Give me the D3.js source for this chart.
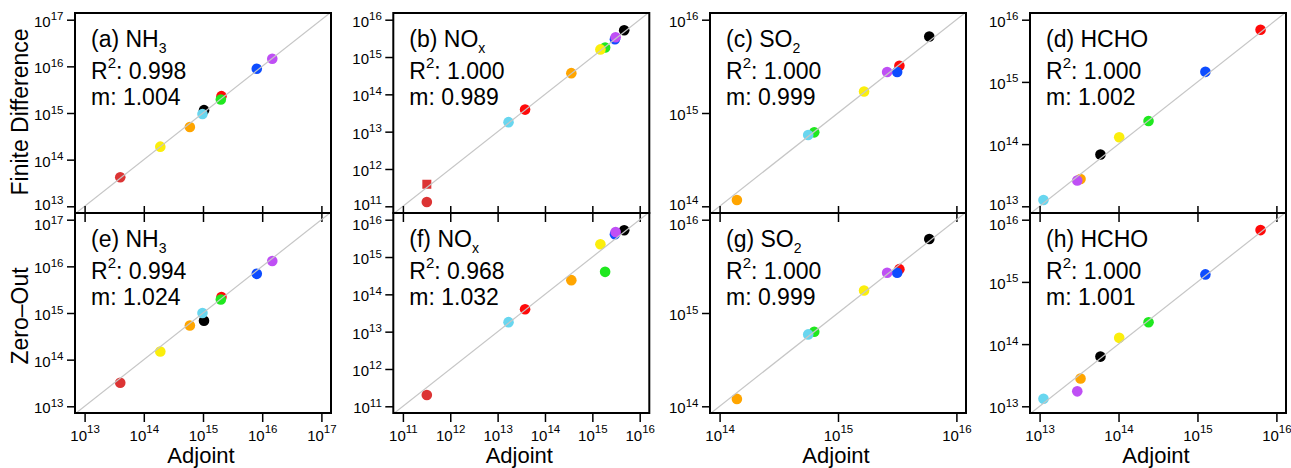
<!DOCTYPE html>
<html><head><meta charset="utf-8">
<script src="https://cdn.jsdelivr.net/npm/d3@7"></script>
<style>
body{margin:0;background:#fff}
svg{display:block}
text{font-family:"Liberation Sans",Arial,Helvetica,sans-serif;fill:#000}
</style>
</head><body>
<svg id="chart" width="1291" height="468"></svg>
<script>
// ---------------- DATA ----------------
const categories = ["Source 1","Source 2","Source 3","Source 4","Source 5","Source 6","Source 7","Source 8","Source 9"];
const colors = ["#dc3434","#ff0a0a","#1fe81f","#ffa500","#000000","#fbee0c","#68d6ef","#0d4cff","#bf4ff5"];

const speciesBase = ["NH","NO","SO","HCHO"];
const speciesSub  = ["3","x","2",""];
const decadeLo = [13,11,14,13];
const decadeHi = [17,16,16,16];
const rowTitles = ["Finite Difference","Zero\u2013Out"];
const xTitle = "Adjoint";
const panelLetters = [["(a)","(b)","(c)","(d)"],["(e)","(f)","(g)","(h)"]];
const r2Values = [["0.998","1.000","1.000","1.000"],["0.994","0.968","1.000","1.000"]];
const slopeValues = [["1.004","0.989","0.999","1.002"],["1.024","1.032","0.999","1.001"]];

// order of values follows categories
const adjNH3 = [4.0e13, 2.05e15, 2.0e15, 6.0e14, 1.04e15, 1.9e14, 9.8e14, 8.1e15, 1.48e16];
const fdNH3  = [4.2e13, 2.3e15, 1.95e15, 5.0e14, 1.15e15, 1.9e14, 9.5e14, 8.9e15, 1.45e16];
const zoNH3  = [3.2e13, 2.2e15, 1.95e15, 5.4e14, 6.8e14, 1.5e14, 1.0e15, 6.9e15, 1.3e16];

const adjNOx = [3.2e11, 3.8e13, 1.86e15, 3.6e14, 4.7e15, 1.48e15, 1.7e13, 3.0e15, 3.1e15];
const fdNOx  = [1.3e11, 3.9e13, 1.8e15, 3.7e14, 5.2e15, 1.6e15, 1.8e13, 3.0e15, 3.4e15];
const zoNOx  = [2.0e11, 4.0e13, 4.0e14, 2.4e14, 5.2e15, 2.2e15, 1.8e13, 4.1e15, 4.7e15];
const adjNOxSquare = [3.2e11];
const fdNOxSquare  = [3.9e11];

const adjSO2 = [null, 3.3e15, 6.3e14, 1.4e14, 5.9e15, 1.66e15, 5.6e14, 3.16e15, 2.6e15];
const fdSO2  = [null, 3.2e15, 6.2e14, 1.17e14, 6.6e15, 1.7e15, 5.8e14, 2.75e15, 2.75e15];
const zoSO2  = [null, 2.95e15, 6.3e14, 1.2e14, 6.2e15, 1.74e15, 5.9e14, 2.7e15, 2.7e15];

const adjHCHO = [null, 6.3e15, 2.4e14, 3.3e13, 5.9e13, 1.02e14, 1.12e13, 1.26e15, 3.0e13];
const fdHCHO  = [null, 6.9e15, 2.35e14, 2.75e13, 6.8e13, 1.29e14, 1.26e13, 1.45e15, 2.6e13];
const zoHCHO  = [null, 6.8e15, 2.24e14, 2.8e13, 6.3e13, 1.26e14, 1.32e13, 1.32e15, 1.74e13];

const adjoint = [adjNH3, adjNOx, adjSO2, adjHCHO];
const compare = [[fdNH3, fdNOx, fdSO2, fdHCHO],[zoNH3, zoNOx, zoSO2, zoHCHO]];

// ---------------- LAYOUT ----------------
const colLeft = [75, 393.3, 710, 1030];
const panelW = 256;
const rowTop = [13, 213];
const panelH = 200;
const padX = 9.6, padY = 6.7;
const FONT = 23, TICKFONT = 15, SUPFONT = 11.5;

const svg = d3.select("#chart");
const defs = svg.append("defs");

for (let r = 0; r < 2; r++) {
  for (let c = 0; c < 4; c++) {
    const L = colLeft[c], T = rowTop[r];
    const decades = d3.range(decadeLo[c], decadeHi[c] + 1).map(e => Math.pow(10, e));
    const x = d3.scaleLog().domain([decades[0], decades[decades.length-1]]).range([L + padX, L + panelW - padX]);
    const y = d3.scaleLog().domain([decades[0], decades[decades.length-1]]).range([T + panelH - padY, T + padY]);
    const g = svg.append("g");
    const clipId = "clip" + r + c;
    defs.append("clipPath").attr("id", clipId).append("rect")
      .attr("x", L).attr("y", T).attr("width", panelW).attr("height", panelH);

    const xs = adjoint[c], ys = compare[r][c];
    const pts = xs.map((v, i) => ({x: v, y: ys[i], i})).filter(d => d.x != null && d.y != null);
    const pg = g.append("g").attr("clip-path", `url(#${clipId})`);
    pg.selectAll("circle").data(pts).join("circle")
      .attr("cx", d => x(d.x)).attr("cy", d => y(d.y)).attr("r", 5.3)
      .attr("fill", d => colors[d.i]);
    if (c === 1 && r === 0) {
      const sq = adjNOxSquare.map((v, i) => ({x: v, y: fdNOxSquare[i]}));
      pg.selectAll("rect.sq").data(sq).join("rect").attr("class", "sq")
        .attr("x", d => x(d.x) - 4.5).attr("y", d => y(d.y) - 4.5)
        .attr("width", 9).attr("height", 9).attr("fill", colors[0]);
    }
    // 1:1 line
    const lo = decades[0] / 10, hi = decades[decades.length-1] * 10;
    pg.append("line")
      .attr("x1", x(lo)).attr("y1", y(lo)).attr("x2", x(hi)).attr("y2", y(hi))
      .attr("stroke", "#c6c6c6").attr("stroke-width", 1.2);

    // Y axis
    const yAxis = d3.axisLeft(y).tickValues(decades).tickSize(8).tickSizeOuter(0).tickFormat("");
    const ya = g.append("g").attr("transform", `translate(${L},0)`).call(yAxis);
    ya.select(".domain").remove();
    ya.selectAll(".tick line").attr("stroke", "#000").attr("stroke-width", 1.5);
    const nDec = decades.length;
    ya.selectAll(".tick").each(function(d, k) {
      let base = 6.5;
      if (r === 0 && k === 0) base = 3.5;          // lowest label of upper row
      if (r === 1 && k === nDec - 1) base = 10;    // highest label of lower row
      const t = d3.select(this).append("text")
        .attr("x", -11.5).attr("y", base).attr("text-anchor", "end")
        .attr("font-size", TICKFONT).attr("fill", "#000");
      t.append("tspan").text("10");
      t.append("tspan").attr("dy", -6.5).attr("font-size", SUPFONT).text(Math.round(Math.log10(d)));
    });

    // X axis
    if (r === 0) {
      const xAxis = d3.axisBottom(x).tickValues(decades).tickSizeInner(16).tickSizeOuter(0).tickFormat("");
      const xa = g.append("g").attr("transform", `translate(0,${T + panelH - 7})`).call(xAxis);
      xa.select(".domain").remove();
      xa.selectAll(".tick line").attr("stroke", "#000").attr("stroke-width", 1.5);
    } else {
      const xAxis = d3.axisBottom(x).tickValues(decades).tickSize(9).tickSizeOuter(0).tickFormat("");
      const xa = g.append("g").attr("transform", `translate(0,${T + panelH})`).call(xAxis);
      xa.select(".domain").remove();
      xa.selectAll(".tick line").attr("stroke", "#000").attr("stroke-width", 1.5);
      xa.selectAll(".tick").each(function(d) {
        const t = d3.select(this).append("text")
          .attr("x", 0).attr("y", 27.5).attr("text-anchor", "middle")
          .attr("font-size", TICKFONT).attr("fill", "#000");
        t.append("tspan").text("10");
        t.append("tspan").attr("dy", -7.5).attr("font-size", SUPFONT).text(Math.round(Math.log10(d)));
      });
      g.append("text").attr("x", L + panelW/2 - 2).attr("y", 463.3)
        .attr("text-anchor", "middle").attr("font-size", 22).text(xTitle);
    }

    // frame
    g.append("rect").attr("x", L).attr("y", T).attr("width", panelW).attr("height", panelH)
      .attr("fill", "none").attr("stroke", "#000").attr("stroke-width", 2);

    // annotations
    const ax = L + 16;
    const t1 = g.append("text").attr("x", ax).attr("y", T + 34).attr("font-size", FONT);
    t1.append("tspan").text(panelLetters[r][c] + " " + speciesBase[c]);
    if (speciesSub[c]) t1.append("tspan").attr("dy", 6).attr("font-size", 14).text(speciesSub[c]);
    const t2 = g.append("text").attr("x", ax).attr("y", T + 65.5).attr("font-size", FONT);
    t2.append("tspan").text("R");
    t2.append("tspan").attr("dy", -11).attr("font-size", 15).text("2");
    t2.append("tspan").attr("dy", 11).text(": " + r2Values[r][c]);
    g.append("text").attr("x", ax).attr("y", T + 91.5).attr("font-size", FONT)
      .text("m: " + slopeValues[r][c]);
  }
  // row title
  const cy = rowTop[r] + panelH/2 + (r === 0 ? -1 : 3);
  svg.append("text").attr("transform", `translate(28,${cy}) rotate(-90)`)
    .attr("text-anchor", "middle").attr("font-size", FONT).text(rowTitles[r]);
}
</script>
</body></html>
